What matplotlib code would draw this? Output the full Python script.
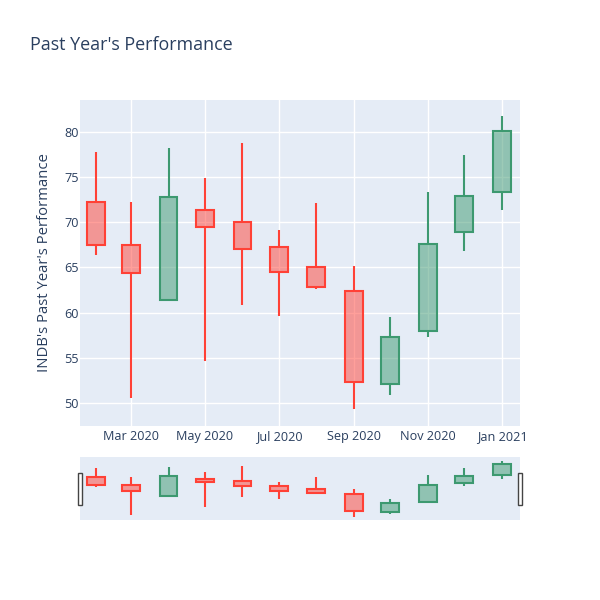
import matplotlib
matplotlib.use("Agg")
import matplotlib.pyplot as plt
import matplotlib.dates as mdates
from matplotlib.patches import Rectangle
import pandas as pd

dates = pd.date_range("2020-02-01", periods=12, freq="MS")
opens = [72.3, 67.5, 61.4, 71.4, 70.0, 67.3, 65.1, 62.4, 52.1, 58.0, 68.9, 73.3]
highs = [77.75, 72.2, 78.2, 74.95, 78.75, 69.2, 72.1, 65.2, 59.5, 73.4, 77.4, 81.75]
lows = [66.35, 50.5, 61.4, 54.7, 60.85, 59.65, 62.6, 49.3, 50.85, 57.35, 66.85, 71.35]
closes = [67.5, 64.4, 72.85, 69.45, 67.05, 64.45, 62.8, 52.35, 57.3, 67.6, 72.95, 80.1]

INC = "#3D9970"
DEC = "#FF4136"
BG = "#E5ECF6"
TXT = "#2a3f5f"
plt.rcParams["font.family"] = ["Open Sans", "DejaVu Sans"]

fig = plt.figure(figsize=(6, 6), dpi=100)
ax = fig.add_axes([80/600, 1-426/600, 440/600, 326/600])
sl = fig.add_axes([80/600, 1-520/600, 440/600, 63/600])

x = mdates.date2num(dates)
width = 14.8


def draw(a, lw):
    for xi, o, h, l, c in zip(x, opens, highs, lows, closes):
        col = INC if c >= o else DEC
        lo, hi = min(o, c), max(o, c)
        a.vlines(xi, hi, h, color=col, lw=lw, zorder=2)
        a.vlines(xi, l, lo, color=col, lw=lw, zorder=2)
        a.bar(xi, hi - lo, bottom=lo, width=width, facecolor=col, alpha=0.5,
              edgecolor="none", zorder=3)
        a.bar(xi, hi - lo, bottom=lo, width=width, facecolor="none",
              edgecolor=col, lw=lw, zorder=4)


xlim = (mdates.date2num(pd.Timestamp("2020-01-19")), mdates.date2num(pd.Timestamp("2021-01-15 20:00")))

for a in (ax, sl):
    a.set_facecolor(BG)
    for s in a.spines.values():
        s.set_visible(False)
    a.set_xlim(*xlim)

draw(ax, 1.5)
draw(sl, 1.5)

ax.set_ylim(47.45, 83.54)
ax.set_yticks([50, 55, 60, 65, 70, 75, 80])
ticks = pd.date_range("2020-03-01", "2021-01-01", freq="2MS")
ax.set_xticks(mdates.date2num(ticks))
ax.xaxis.set_major_formatter(mdates.DateFormatter("%b %Y"))
ax.grid(color="white", lw=1)
ax.set_axisbelow(True)
ax.tick_params(length=0, labelsize=9.1, colors=TXT)
ax.tick_params(axis="x", pad=3)
ax.tick_params(axis="y", pad=1)
ax.set_ylabel("INDB's Past Year's Performance", fontsize=10.7, color=TXT, labelpad=9)

sl.set_ylim(47.4, 83.9)
sl.set_xticks([])
sl.set_yticks([])

fig.text(30/600, 1-45/600, "Past Year's Performance", fontsize=12.9, color=TXT, va="center")

for px in (78, 518):
    fig.patches.append(Rectangle((px/600, 1-505/600), 4/600, 32/600, transform=fig.transFigure,
                                 facecolor="white", edgecolor="#444444", lw=1))

fig.savefig("out.png")
